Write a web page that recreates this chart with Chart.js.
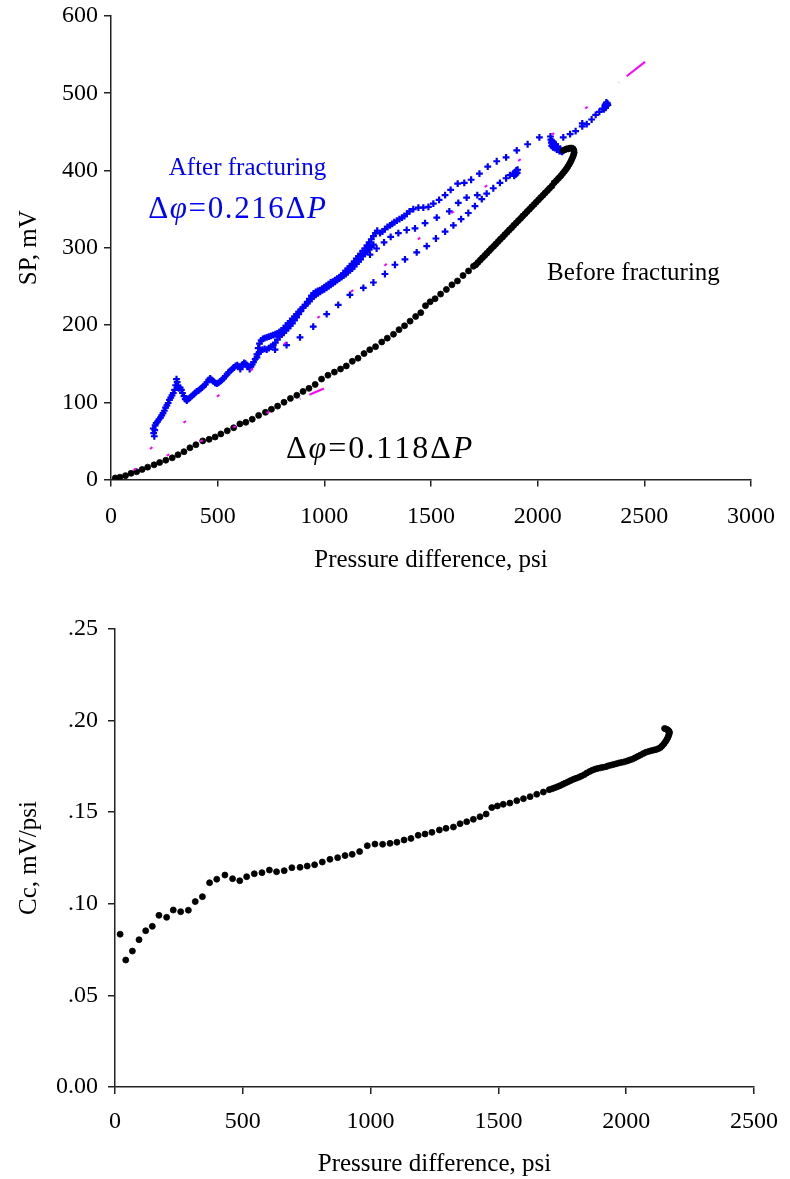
<!DOCTYPE html>
<html>
<head>
<meta charset="utf-8">
<title>SP vs pressure difference</title>
<script src="https://cdn.jsdelivr.net/npm/chart.js@4.4.1/dist/chart.umd.min.js"></script>
<style>
  html, body { margin: 0; padding: 0; background: #fff; }
  #wrap { position: relative; width: 790px; height: 1179px; }
  .box { position: absolute; left: 0; width: 790px; }
  #box-sp { top: 0; height: 590px; }
  #box-cc { top: 590px; height: 589px; }
</style>
</head>
<body>
<div id="wrap">
  <div class="box" id="box-sp"><canvas id="chart-sp"></canvas></div>
  <div class="box" id="box-cc"><canvas id="chart-cc"></canvas></div>
</div>
<script>
// Fonts / colours
const SERIF = "'Liberation Serif', 'Times New Roman', serif";
const BLUE = '#0000ff';
const MAGENTA = '#ff00ff';
const BLACK = '#000000';

// ---- Top chart: SP vs pressure difference ----
const spTicksX = [0, 500, 1000, 1500, 2000, 2500, 3000];
const spTicksY = [0, 100, 200, 300, 400, 500, 600];

// Before fracturing (black dots) [psi, mV]
const beforeSP = [
  [20,2],[42,3],[68,5],[94,8],[120,10],[146,13],[172,16],[202,19],[228,22],[257,25],
  [287,28],[314,32],[342,36],[370,41],[398,45],[430,50],[460,52],[488,55],[515,59],[545,63],
  [575,67],[604,72],[632,74],[662,78],[692,83],[724,87],[752,91],[781,95],[811,100],[841,105],
  [871,109],[900,114],[928,118],[957,123],[987,130],[1017,135],[1047,139],[1076,143],[1103,147],[1131,153],
  [1158,157],[1186,163],[1213,168],[1240,172],[1269,178],[1295,183],[1324,188],[1350,194],[1376,199],[1402,205],
  [1428,211],[1452,216],[1474,225],[1496,230],[1519,234],[1545,240],[1572,246],[1598,252],[1624,257],[1650,264],
  [1676,270],[1699,276],[1710,278],[1720,281],[1731,284],[1741,287],[1752,290],[1762,293],[1773,296],[1783,299],
  [1794,302],[1804,305],[1815,308],[1825,311],[1836,314],[1846,317],[1857,320],[1867,323],[1878,326],[1888,329],
  [1899,332],[1909,335],[1920,338],[1930,341],[1941,344],[1951,347],[1962,350],[1972,353],[1983,356],[1993,359],
  [2004,362],[2014,365],[2025,368],[2035,371],[2046,374],[2056,377],[2067,380],[2077,384],[2088,387],[2098,390],
  [2108,393],[2117,396],[2126,399],[2134,402],[2141,405],[2148,408],[2154,411],[2159,414],[2164,417],[2168,420],
  [2171,423],[2170,426],[2166,428],[2160,429],[2152,429],[2144,428],[2136,428],[2128,427],[2120,426]
];

// After fracturing (blue crosses), split by branch [psi, mV]
const afterBand = [
  [203,56],[200,60],[205,64],[198,66],[207,70],[212,73],[218,75],[225,78],[232,80],[238,83],
  [244,86],[250,89],[256,93],[262,96],[268,99],[274,103],[280,106],[286,109],[292,112],[298,116],
  [303,122],[307,130],[310,126],[314,121],[318,118],[324,119],[330,116],[335,112],[342,108],[348,104],
  [355,102],[362,104],[370,106],[378,108],[386,110],[394,112],[402,114],[410,115],[418,117],[426,119],
  [434,121],[442,123],[450,126],[458,129],[465,131],[472,129],[480,127],[488,125],[496,124],[504,125],
  [512,127],[520,129],[528,131],[536,134],[544,136],[552,139],[560,141],[568,143],[576,145],[584,147],
  [592,148],[600,146],[606,143],[612,146],[618,149],[624,151],[630,150],[636,148],[642,146],[650,143],
  [656,146],[662,149],[668,152],[676,156],[684,162],[690,170],[696,176],[704,180],[712,182],[720,183],
  [730,184],[740,185],[750,186],[760,187],[770,188],[780,189],[790,191],[800,193],[810,196],[820,199],
  [830,202],[840,205],[850,208],[860,211],[870,214],[880,217],[890,220],[900,223],[910,226],[920,230],
  [930,234],[940,238],[950,241],[960,243],[970,244],[980,245],[990,247],[1000,249],[1010,251],[1020,253],
  [1030,255],[1040,256],[1050,258],[1060,260],[1070,262],[1080,264],[1090,267],[1100,270],[1110,273],[1120,276],
  [1130,279],[1140,282],[1150,286],[1160,289],[1170,292],[1180,296],[1190,299],[1200,303],[1210,307],[1220,311],
  [1230,315],[1240,319],[1248,322]
];
const afterLoop = [
  [684,158],[692,163],[700,166],[710,168],[720,169],[730,168],[740,170],[750,172],[760,174],[770,177],
  [780,181],[790,185],[800,188],[810,190],[820,193],[830,196],[840,199],[850,202],[860,206],[870,210],
  [880,214],[890,218],[900,222],[910,225],[920,228],[930,231],[940,234],[950,237],[960,239],[970,241],
  [980,243],[990,245],[1000,246],[1010,248],[1020,250],[1030,252],[1040,254],[1050,256],[1060,258],[1070,260],
  [1080,262],[1090,264],[1100,266],[1110,268],[1120,271],[1130,273],[1140,276],[1150,279],[1160,282],[1170,285],
  [1180,289],[1190,292],[1200,295],[1210,298],[1220,301],[1230,304]
];
const afterUpper = [
  [1261,319],[1272,321],[1284,324],[1296,327],[1308,329],[1318,331],[1328,333],[1340,335],[1352,337],[1364,339],
  [1375,341],[1387,344],[1399,347],[1417,350],[1441,352],[1464,352],[1488,353],[1511,357],[1538,362],[1566,368],
  [1592,375],[1625,383],[1656,384],[1688,388],[1727,396],[1766,405],[1808,412],[1852,417],[1902,426],[1953,434],
  [2008,443]
];
const afterTop = [
  [2060,444],[2062,440],[2064,436],[2066,432],[2068,438],[2070,434],[2072,430],[2075,436],[2078,432],[2081,429],
  [2084,434],[2087,430],[2090,427],[2094,431],[2098,427],[2102,425],[2106,428],[2110,425],[2115,424],[2120,426],
  [2120,443],[2152,447],[2178,451],[2209,457],[2209,461],[2230,460],[2253,466],[2272,472],[2289,476],[2304,480],
  [2310,479],[2316,485],[2318,481],[2320,486],[2322,488],[2324,484],[2327,487],[2329,485]
];
const afterMiddle = [
  [1214,291],[1245,299],[1280,307],[1311,314],[1347,319],[1386,323],[1425,325],[1472,332],[1527,339],[1586,347],
  [1628,358],[1667,365],[1717,368],[1761,370],[1792,377],[1823,384],[1852,390],[1870,394],[1885,396],[1894,398],
  [1900,400],[1906,401],[1904,397],[1898,395],[1890,393]
];
const afterLower = [
  [769,168],[823,174],[886,184],[948,198],[1011,214],[1065,226],[1120,239],[1183,248],[1230,255],[1284,266],
  [1331,278],[1378,285],[1433,294],[1480,302],[1523,312],[1566,321],[1605,329],[1641,337],[1675,345],[1706,354],
  [1738,363]
];

// Fitted lines (magenta): sparse dashes then a final long dash
const fitBefore = [[105,12.4],[888,104.8]];
const fitBeforeTail = [[930,109.7],[998,117.8]];
const fitAfter = [[183,39.5],[2381,514.3]];
const fitAfterTail = [[2417,522.1],[2503,540.6]];

// Text on the top chart
const textAfter = 'After fracturing';
const textBefore = 'Before fracturing';
const eqAfter = [['Δ'], ['φ', true], ['=0.216Δ'], ['P', true]];
const eqBefore = [['Δ'], ['φ', true], ['=0.118Δ'], ['P', true]];

// ---- Bottom chart: Cc vs pressure difference ----
const ccTicksX = [0, 500, 1000, 1500, 2000, 2500];
const ccTicksY = [0, 0.05, 0.10, 0.15, 0.20, 0.25];
const ccTickLabels = ['0.00', '.05', '.10', '.15', '.20', '.25'];

const ccPoints = [
  [20,.0834],[42,.0693],[68,.0742],[94,.0804],[120,.0853],[146,.0877],[172,.0937],[202,.0926],[228,.0966],[257,.0957],
  [287,.0965],[314,.1012],[342,.1039],[370,.1115],[398,.1134],[430,.1157],[460,.1137],[488,.1126],[515,.1148],[545,.1164],
  [575,.1170],[604,.1184],[632,.1175],[662,.1181],[692,.1197],[724,.1199],[752,.1206],[781,.1213],[811,.1228],[841,.1243],
  [871,.1252],[900,.1263],[928,.1270],[957,.1285],[987,.1317],[1017,.1326],[1047,.1325],[1076,.1330],[1103,.1336],[1131,.1348],
  [1158,.1357],[1186,.1374],[1213,.1381],[1240,.1390],[1269,.1403],[1295,.1412],[1324,.1419],[1350,.1437],[1376,.1448],[1402,.1461],
  [1428,.1475],[1452,.1490],[1474,.1525],[1496,.1534],[1519,.1543],[1545,.1550],[1572,.1563],[1598,.1574],[1624,.1585],[1650,.1598],
  [1676,.1610],[1699,.1623],[1710,.1628],[1720,.1633],[1731,.1639],[1741,.1645],[1752,.1652],[1762,.1659],[1773,.1666],[1783,.1673],
  [1794,.1680],[1804,.1685],[1815,.1691],[1825,.1697],[1836,.1705],[1846,.1714],[1857,.1722],[1867,.1729],[1878,.1735],[1888,.1739],
  [1899,.1742],[1909,.1745],[1920,.1748],[1930,.1753],[1941,.1757],[1951,.1761],[1962,.1765],[1972,.1769],[1983,.1772],[1993,.1775],
  [2004,.1780],[2014,.1785],[2025,.1790],[2035,.1797],[2046,.1805],[2056,.1812],[2067,.1820],[2077,.1827],[2088,.1832],[2098,.1836],
  [2108,.1839],[2117,.1842],[2126,.1847],[2134,.1853],[2141,.1863],[2148,.1874],[2154,.1886],[2159,.1897],[2163,.1908],[2166,.1919],
  [2168,.1928],[2169,.1935],[2168,.1941],[2165,.1946],[2161,.1950],[2156,.1954],[2150,.1957]
];

const toXY = pts => pts.map(([x, y]) => ({ x, y }));

// Draws text made of plain and italic pieces, centred at a data point
const richText = {
  id: 'richText',
  afterDatasetsDraw(chart, args, opts) {
    const { ctx, scales } = chart;
    (opts.items || []).forEach(item => {
      const cx = scales.x.getPixelForValue(item.x);
      const by = scales.y.getPixelForValue(item.y);
      const fontOf = italic => `${italic ? 'italic ' : ''}${item.size}px ${SERIF}`;
      ctx.save();
      ctx.fillStyle = item.color;
      ctx.textAlign = 'left';
      ctx.textBaseline = 'alphabetic';
      const gap = item.spacing || 0;
      let total = 0;
      item.parts.forEach(([t, it]) => { ctx.font = fontOf(it); total += ctx.measureText(t).width + gap * t.length; });
      let x = cx - total / 2;
      item.parts.forEach(([t, it]) => {
        ctx.font = fontOf(it);
        // char by char so the spacing works everywhere
        for (const ch of t) {
          ctx.fillText(ch, x, by);
          x += ctx.measureText(ch).width + gap;
        }
      });
      ctx.restore();
    });
  }
};

function axis(ticks, labels, title, size, tickPad, titlePad) {
  return {
    type: 'linear',
    min: ticks[0],
    max: ticks[ticks.length - 1],
    afterBuildTicks: s => { s.ticks = ticks.map(v => ({ value: v })); },
    ticks: {
      color: BLACK,
      padding: tickPad,
      font: { family: SERIF, size: 24 },
      callback: (v, i) => labels ? labels[i] : String(v)
    },
    grid: { drawOnChartArea: false, drawTicks: true, tickLength: 7, color: '#222', lineWidth: 1.5 },
    border: { display: true, color: '#222', width: 1.5 },
    title: { display: true, text: title, color: BLACK, font: { family: SERIF, size: 25 }, padding: titlePad },
    afterFit: s => {
      // fixed axis boxes so the plot area sits where the original has it
      if (s.isHorizontal()) { s.height = size; s.paddingLeft = 0; s.paddingRight = 0; }
      else { s.width = size; s.paddingTop = 0; s.paddingBottom = 0; }
    }
  };
}

function initCharts() {
  Chart.defaults.font.family = SERIF;

  new Chart(document.getElementById('chart-sp'), {
    type: 'scatter',
    data: {
      datasets: [
        { data: toXY(fitBefore), showLine: true, borderColor: MAGENTA, borderWidth: 2, borderDash: [3, 33.2], pointRadius: 0 },
        { data: toXY(fitBeforeTail), showLine: true, borderColor: MAGENTA, borderWidth: 2, pointRadius: 0 },
        { data: toXY(fitAfter), showLine: true, borderColor: MAGENTA, borderWidth: 2, borderDash: [3, 39.5], pointRadius: 0 },
        { data: toXY(fitAfterTail), showLine: true, borderColor: MAGENTA, borderWidth: 2, pointRadius: 0 },
        {
          label: textBefore, data: toXY(beforeSP),
          pointStyle: 'circle', pointRadius: 3, pointBorderWidth: 0.8,
          backgroundColor: BLACK, borderColor: BLACK
        },
        {
          label: textAfter,
          data: toXY([...afterBand, ...afterLoop, ...afterUpper, ...afterTop, ...afterMiddle, ...afterLower]),
          pointStyle: 'cross', pointRadius: 3.4, pointBorderWidth: 2.2,
          backgroundColor: BLUE, borderColor: BLUE
        }
      ]
    },
    options: {
      responsive: true,
      maintainAspectRatio: false,
      animation: false,
      devicePixelRatio: 1,
      layout: { padding: { top: 16, right: 39, left: 0, bottom: 0 } },
      scales: {
        x: axis(spTicksX, null, 'Pressure difference, psi', 110.5, 16, { top: 0, bottom: 15 }),
        y: axis(spTicksY, null, 'SP, mV', 111, 6, { top: 14, bottom: 0 })
      },
      plugins: {
        legend: { display: false },
        tooltip: { enabled: false },
        richText: {
          items: [
            { x: 640, y: 394, size: 25, color: BLUE, parts: [[textAfter]] },
            { x: 595, y: 339, size: 31, spacing: 1.6, color: BLUE, parts: eqAfter },
            { x: 2449, y: 258, size: 25, color: BLACK, parts: [[textBefore]] },
            { x: 1259, y: 28, size: 32, spacing: 2, color: BLACK, parts: eqBefore }
          ]
        }
      }
    },
    plugins: [richText]
  });

  new Chart(document.getElementById('chart-cc'), {
    type: 'scatter',
    data: {
      datasets: [{
        data: toXY(ccPoints),
        pointStyle: 'circle', pointRadius: 3, pointBorderWidth: 0.8,
        backgroundColor: BLACK, borderColor: BLACK
      }]
    },
    options: {
      responsive: true,
      maintainAspectRatio: false,
      animation: false,
      devicePixelRatio: 1,
      layout: { padding: { top: 39, right: 36, left: 0, bottom: 0 } },
      scales: {
        x: axis(ccTicksX, null, 'Pressure difference, psi', 92, 13, { top: 0, bottom: 0 }),
        y: axis(ccTicksY, ccTickLabels, 'Cc, mV/psi', 115, 10, { top: 14, bottom: 0 })
      },
      plugins: { legend: { display: false }, tooltip: { enabled: false } }
    }
  });
}

document.addEventListener('DOMContentLoaded', initCharts);
</script>
</body>
</html>
